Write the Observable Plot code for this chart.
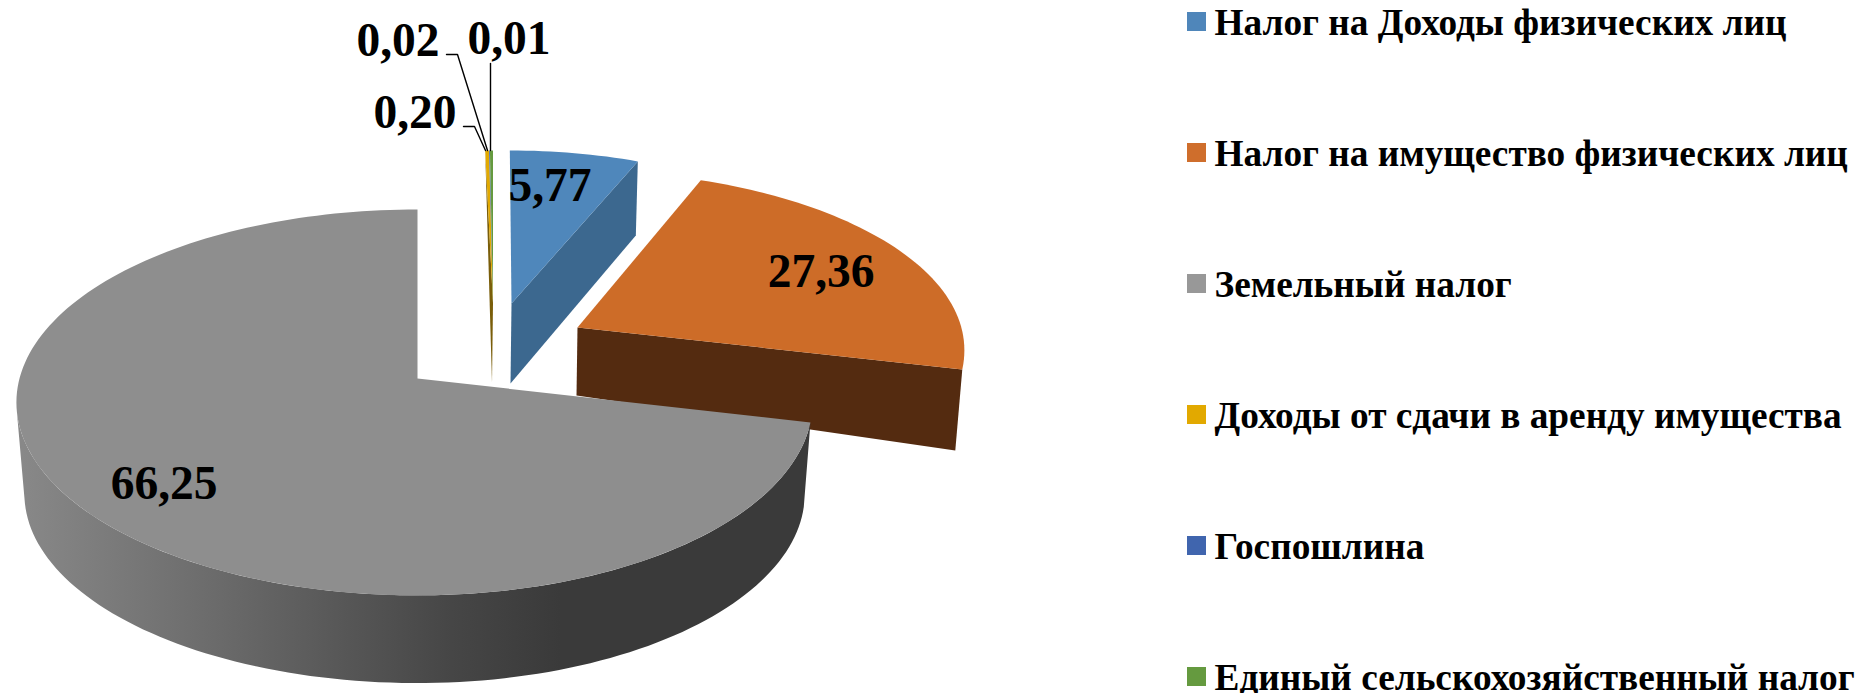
<!DOCTYPE html>
<html><head><meta charset="utf-8">
<style>html,body{margin:0;padding:0;background:#fff}svg{display:block}</style>
<script src="https://cdn.jsdelivr.net/npm/d3@7"></script>
<script src="https://cdn.jsdelivr.net/npm/@observablehq/plot@0.6"></script>
</head><body><script>
// DATA
const categories = ["Налог на Доходы физических лиц","Налог на имущество физических лиц","Земельный налог","Доходы от сдачи в аренду имущества","Госпошлина","Единый сельскохозяйственный налог"];
const values = [5.77, 27.36, 66.25, 0.20, 0.02, 0.01];
const valueLabels = ["5,77","27,36","66,25","0,20","0,02","0,01"];
const topColors = ["#4f87bb","#cd6c28","#8e8e8e","#e2a900","#3f64ad","#659a3f"];
const wallColors = ["#3c688f","#542b10","#3a3a3a","#7a5e0a","#2c4678","#44692a"];
const swatchColors = ["#4f86ba","#cf6e2c","#989898","#e2a900","#4065ae","#659a3f"];

// LAYOUT: 3D projection of the pie
const RX = 398, RY = 190, K = 0.124, BOTTOM_SCALE = 0.98;
// drawn sweep of the reference, as a function of the running share
const cum = d3.cumsum(values);
const warp = d3.scaleLinear().domain([0, cum[0], cum[1], cum[2]]).range([0, 22, 103, 360]);
const slices = [
  {i:0, ax:511, ay:303, s:.905, rs:1, us:1, d:80, a0:-0.3, a1:23, radial:"end", rd:74, rdx:2},
  {i:1, ax:577, ay:327, s:.955, rs:1.01, us:.97, d:68, a0:21, radial:"end", rd:81, rdx:7},
  {i:2, ax:417, ay:378, s:1, rs:.985, us:1, d:92, rim:true},
  {i:3, ax:492.5, ay:303, s:.905, rs:1, us:1, d:79, a0:358.6, a1:359.3, sliver:true},
  {i:4, ax:492.5, ay:303, s:.905, rs:1, us:1, d:79, a0:359.3, a1:359.45},
  {i:5, ax:492.5, ay:303, s:.905, rs:1, us:1, d:79, a0:359.45, a1:360}
];
const rad = Math.PI/180;
function proj(sl, t, bottom){
  const X = Math.sin(t*rad), Y = -Math.cos(t*rad), w = 1 - K*Y;
  const s = sl.s*(bottom?BOTTOM_SCALE:1);
  return [sl.ax + s*RX*X/w*(X>0?sl.rs:1), sl.ay + (bottom?sl.d:0) + s*RY*Y/w*(Y<0?sl.us:1)];
}
function arc(sl,a,b,bottom){ const n=Math.max(2,Math.ceil(Math.abs(b-a)/1.5)); return d3.range(n+1).map(j=>proj(sl,a+(b-a)*j/n,bottom)); }
const faces = []; let fid = 0;
function addFace(pts, fill){ const id = fid++; pts.forEach(p=>faces.push({id,x:p[0],y:p[1],fill})); }
slices.forEach(sl=>{
  const a0 = sl.a0 ?? warp(cum[sl.i-1]), a1 = sl.a1 ?? warp(cum[sl.i]);
  const apexT=[sl.ax,sl.ay], apexB=[sl.ax-1,sl.ay+sl.d];
  if (sl.sliver) addFace([proj(sl,a0),apexB,apexT], wallColors[sl.i]);
  if (sl.radial==="end"){
    const p=proj(sl,a1);
    addFace([apexT,p,[p[0]-sl.rdx,p[1]+sl.rd],apexB], wallColors[sl.i]);
  }
  if (sl.rim){
    const top=arc(sl,a0,260,false), bot=arc(sl,a0-2,260,true).reverse();
    addFace([...top,...bot],"url(#greyWall)");
  }
  addFace([apexT,...arc(sl,a0,a1,false)], topColors[sl.i]);
});

const labelX = [591,874,217,456,439,550];
const labelY = [200,286,498,127,55,53];
const labels = valueLabels.map((t,i)=>({t,x:labelX[i],y:labelY[i]}));
const leaderPaths = [
  [[463,126],[474,126],[485,150]],
  [[446,54],[457,54],[487,150]],
  [[490,63],[490,150]]
];
const leaders = leaderPaths.flatMap((p,id)=>p.map(q=>({id,x:q[0],y:q[1]})));
const legendRows = categories.map((name,i)=>({name,fill:swatchColors[i],top:12+131*i,base:34+131*i}));

const defs = () => {
  const d = d3.create("svg:defs");
  const g = d.append("linearGradient").attr("id","greyWall").attr("gradientUnits","userSpaceOnUse")
    .attr("x1",15).attr("x2",560).attr("y1",0).attr("y2",0);
  [[0,"#898989"],[.33,"#6e6e6e"],[.8,"#464646"],[1,"#3a3a3a"]].forEach(([o,c])=>g.append("stop").attr("offset",o).attr("stop-color",c));
  return d.node();
};

const plot = Plot.plot({
  width:1865,height:693,margin:0,
  x:{domain:[0,1865],range:[0,1865],axis:null},
  y:{domain:[0,693],range:[0,693],axis:null},
  color:{type:"identity"},
  style:{background:"#fff",fontFamily:"'Liberation Serif',serif"},
  marks:[
    defs,
    Plot.line(faces,{x:"x",y:"y",z:"id",fill:"fill",stroke:null,curve:"linear-closed"}),
    Plot.line(leaders,{x:"x",y:"y",z:"id",stroke:"#000",strokeWidth:1.4,curve:"linear"}),
    Plot.text(labels,{x:"x",y:"y",text:"t",textAnchor:"end",lineAnchor:"bottom",fontSize:47.5,fontWeight:"bold",fill:"#000"}),
    Plot.rect(legendRows,{x1:()=>1187,x2:()=>1206,y1:"top",y2:d=>d.top+19,fill:"fill"}),
    Plot.text(legendRows,{x:()=>1214,y:"base",text:"name",textAnchor:"start",lineAnchor:"bottom",fontSize:37.3,fontWeight:"bold",fill:"#000"})
  ]
});
document.body.appendChild(plot);
</script></body></html>
